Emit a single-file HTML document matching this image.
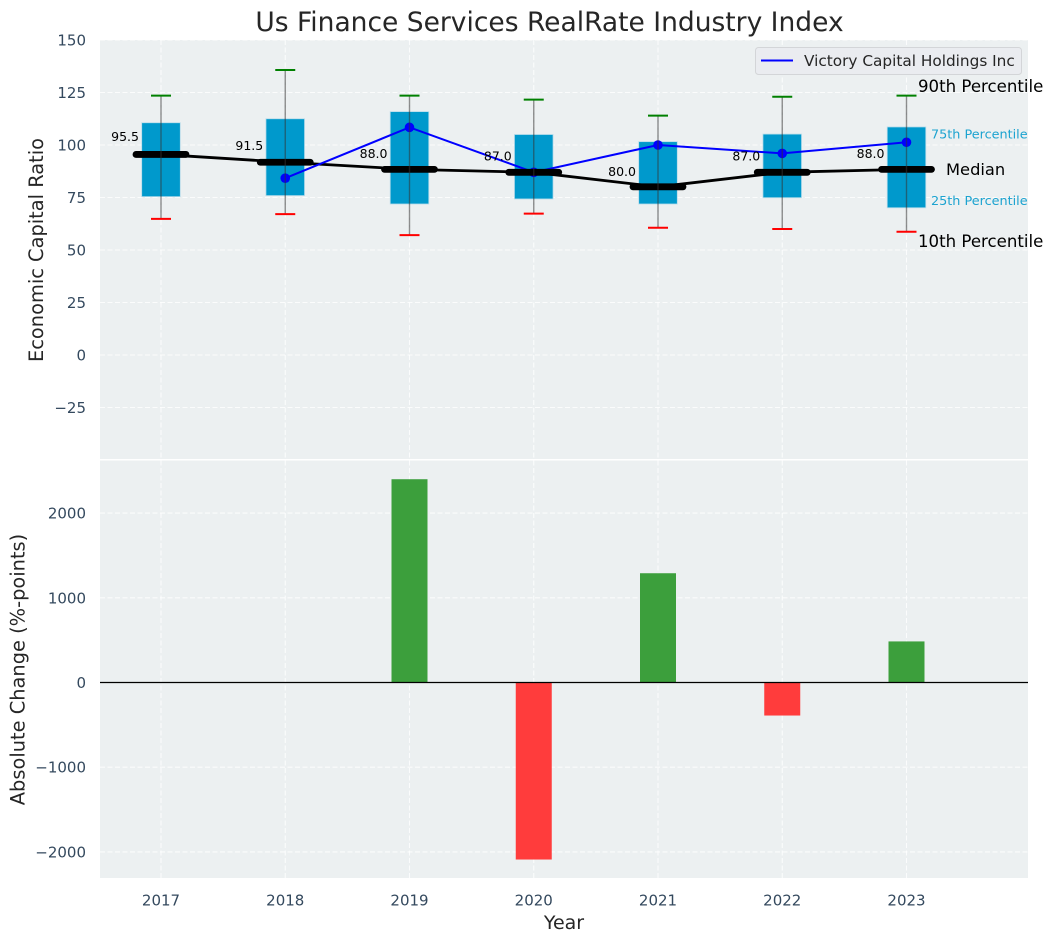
<!DOCTYPE html>
<html lang="en">
<head>
<meta charset="utf-8">
<title>Us Finance Services RealRate Industry Index</title>
<style>
html,body{margin:0;padding:0;background:#fff;}
svg{display:block;font-family:"DejaVu Sans","Liberation Sans",sans-serif;}
</style>
</head>
<body>
<svg id="chart" xmlns="http://www.w3.org/2000/svg" width="1053" height="942" viewBox="0 0 1053 942"></svg>
<script>
const years = [2017, 2018, 2019, 2020, 2021, 2022, 2023];
const p10 = [64.8, 67.1, 57.1, 67.3, 60.6, 60, 58.7];
const p25 = [75.4, 75.9, 71.9, 74.3, 71.9, 74.9, 70.1];
const medians = [95.5, 91.8, 88.4, 87, 80.1, 87, 88.4];
const medianLabels = [95.5, 91.5, 88, 87, 80, 87, 88];
const p75 = [110.6, 112.5, 115.9, 105, 101.6, 105.2, 108.6];
const p90 = [123.5, 135.7, 123.5, 121.6, 114, 123, 123.5];
const companyYears = [2018, 2019, 2020, 2021, 2022, 2023];
const companyValues = [84.2, 108.4, 87, 100, 96, 101.3];
const changeYears = [2019, 2020, 2021, 2022, 2023];
const changeValues = [2400, -2090, 1290, -390, 485];
const topTicks = [150, 125, 100, 75, 50, 25, 0, -25];
const bottomTicks = [2000, 1000, 0, -1000, -2000];

const svg = document.getElementById('chart');
const NS = 'http://www.w3.org/2000/svg';
const INK = '#34495e';
const plotLeft = 100, plotRight = 1028, topPlotTop = 40, topPlotBottom = 459, botPlotTop = 460.5, botPlotBottom = 878;

function xScale(year) { return 161 + (year - 2017) * 124.25; }
function yTop(v) { return 355 - v * 2.1; }
function yBot(v) { return 682.5 - v * 0.0847; }
function yMedianLabel(v) { return 357 - v * 2.26; }

function make(tag, attrs, text) {
  const el = document.createElementNS(NS, tag);
  for (const k in attrs) el.setAttribute(k, attrs[k]);
  if (text !== undefined) el.textContent = text;
  svg.appendChild(el);
  return el;
}

/* plot backgrounds */
let el = make('rect', {x: plotLeft, y: topPlotTop, width: plotRight - plotLeft, height: topPlotBottom - topPlotTop, fill: '#ecf0f1'});


el = make('rect', {x: plotLeft, y: botPlotTop, width: plotRight - plotLeft, height: botPlotBottom - botPlotTop, fill: '#ecf0f1'});



/* grid */
const gridStyle = {stroke: '#fff', 'stroke-width': 1.1, 'stroke-dasharray': '5 2.5', 'stroke-opacity': 0.8};
years.forEach(function (yr) {
  const x = xScale(yr);
  let g = make('line', Object.assign({x1: x, x2: x, y1: topPlotTop, y2: topPlotBottom}, gridStyle));
  
  
  g = make('line', Object.assign({x1: x, x2: x, y1: botPlotTop, y2: botPlotBottom}, gridStyle));
  
  
  const t = make('text', {x: x, y: 905.5, 'text-anchor': 'middle', 'font-size': 15, fill: INK}, String(yr));
  
  
});
topTicks.forEach(function (v) {
  const y = yTop(v);
  const g = make('line', Object.assign({x1: plotLeft, x2: plotRight, y1: y, y2: y}, gridStyle));
  
  
  const t = make('text', {x: 86, y: y + 5.5, 'text-anchor': 'end', 'font-size': 15, fill: INK}, String(v).replace('-', '\u2212'));
  
  
});
bottomTicks.forEach(function (v) {
  const y = yBot(v);
  const g = make('line', Object.assign({x1: plotLeft, x2: plotRight, y1: y, y2: y}, gridStyle));
  
  
  const t = make('text', {x: 86, y: y + 5.5, 'text-anchor': 'end', 'font-size': 15, fill: INK}, String(v).replace('-', '\u2212'));
  
  
});

/* percentile boxes */
years.forEach(function (yr, i) {
  const b = make('rect', {x: xScale(yr) - 19.3, y: yTop(p75[i]), width: 38.6, height: yTop(p25[i]) - yTop(p75[i]), fill: '#0099cc', stroke: '#b8dcea', 'stroke-width': 0.8});
  
  
});

/* median trend line */
const medianPath = make('polyline', {points: years.map(function (yr, i) { return xScale(yr) + ',' + yTop(medians[i]); }).join(' '), fill: 'none', stroke: '#000', 'stroke-width': 2.8});



/* company series */
const companyLine = make('polyline', {points: companyYears.map(function (yr, i) { return xScale(yr) + ',' + yTop(companyValues[i]); }).join(' '), fill: 'none', stroke: '#0000ff', 'stroke-width': 2});


companyYears.forEach(function (yr, i) {
  const p = make('circle', {cx: xScale(yr), cy: yTop(companyValues[i]), r: 4.8, fill: '#0000ff'});
  
  
});

/* medians, whiskers, caps, labels */
years.forEach(function (yr, i) {
  const x = xScale(yr);
  const m = make('line', {x1: x - 25, x2: x + 25, y1: yTop(medians[i]), y2: yTop(medians[i]), stroke: '#000', 'stroke-width': 6.8, 'stroke-linecap': 'round'});
  
  
  const w = make('line', {x1: x, x2: x, y1: yTop(p90[i]), y2: yTop(p10[i]), stroke: '#333', 'stroke-opacity': 0.55, 'stroke-width': 1.4});
  
  
  const hi = make('line', {x1: x - 10, x2: x + 10, y1: yTop(p90[i]), y2: yTop(p90[i]), stroke: '#008000', 'stroke-width': 2});
  
  
  const lo = make('line', {x1: x - 10, x2: x + 10, y1: yTop(p10[i]), y2: yTop(p10[i]), stroke: '#ff0000', 'stroke-width': 2});
  
  
  const t = make('text', {x: x - 22, y: yMedianLabel(medianLabels[i]), 'text-anchor': 'end', 'font-size': 12.5, fill: '#000'}, medianLabels[i].toFixed(1));
  
  
});

/* change bars */
changeYears.forEach(function (yr, i) {
  const v = changeValues[i];
  const y0 = yBot(Math.max(v, 0)), y1 = yBot(Math.min(v, 0));
  const b = make('rect', {x: xScale(yr) - 18, y: y0, width: 36, height: y1 - y0, fill: v >= 0 ? '#3c9f3c' : '#ff3c3c'});
  
  
});
const zero = make('line', {x1: plotLeft, x2: plotRight, y1: yBot(0), y2: yBot(0), stroke: '#000', 'stroke-width': 1.2});


</script>

<script>
/* static annotations, legend and titles */
(function () {
  const s = document.getElementById('chart');
  function add(markup) { s.insertAdjacentHTML('beforeend', markup); }
  add('<text x="549.5" y="31" text-anchor="middle" font-size="26.5" fill="#262626">Us Finance Services RealRate Industry Index</text>');
  add('<text transform="translate(43,250) rotate(-90)" text-anchor="middle" font-size="19.4" fill="#262626">Economic Capital Ratio</text>');
  add('<text transform="translate(24.5,669.5) rotate(-90)" text-anchor="middle" font-size="19.4" fill="#262626">Absolute Change (%-points)</text>');
  add('<text x="564" y="929" text-anchor="middle" font-size="19" fill="#262626">Year</text>');
  add('<g><rect x="755.5" y="47.5" width="266" height="27" rx="3" fill="#eaecf0" stroke="#d3d5d8" stroke-width="1"/><line x1="761" x2="793" y1="60.5" y2="60.5" stroke="#0000ff" stroke-width="2"/><text x="804" y="66" font-size="15.3" fill="#262626">Victory Capital Holdings Inc</text></g>');
  add('<text x="918" y="92" font-size="16.6" fill="#000">90th Percentile</text>');
  add('<text x="931" y="138.5" font-size="12.8" fill="#1ca3d0">75th Percentile</text>');
  add('<text x="946" y="175" font-size="16.3" fill="#000">Median</text>');
  add('<text x="931" y="205" font-size="12.8" fill="#1ca3d0">25th Percentile</text>');
  add('<text x="918" y="247" font-size="16.6" fill="#000">10th Percentile</text>');
})();
</script>
</body>
</html>
